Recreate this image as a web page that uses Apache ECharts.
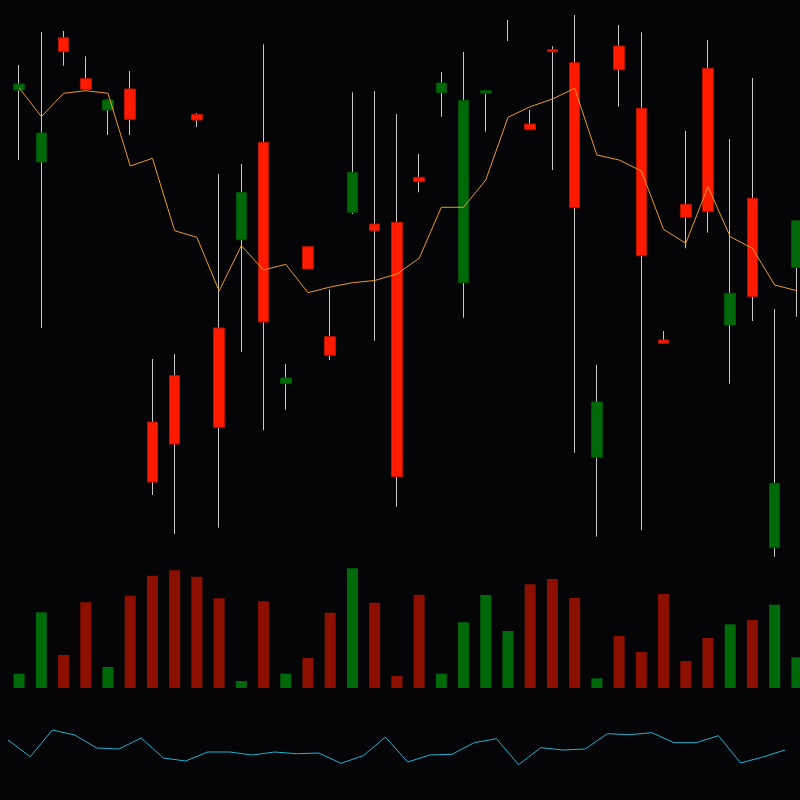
<!DOCTYPE html>
<html>
<head>
<meta charset="utf-8">
<title>K线图</title>
<script src="https://cdn.jsdelivr.net/npm/echarts@6/dist/echarts.min.js"></script>
<style>
  html, body { margin: 0; padding: 0; background: #050507; }
  #chart { width: 800px; height: 800px; }
</style>
</head>
<body>
<div id="chart"></div>
<script>
// 日期（横坐标，不显示）
var days = []
for (var d = 1; d <= 36; d++) days.push('D' + d)

// K线数据 开盘 收盘 最低 最高
var opens = [51.6, 46.7, 54.83, 51.07, 50.0, 48.07, 11.8, 15.6, 48.0, 17.27, 40.77, 27.8, 22.2, 33.1, 24.47, 42.77, 36.93, 12.33,
  41.83, 51.7, 49.97, 50.93, 56.0, 47.03, 54.83, 39.23, 19.8, 53.03, 34.43, 25.67, 38.27, 38.83, 30.67, 30.33, 11.67, 37.93]
var closes = [51.0, 43.8, 56.23, 52.13, 49.0, 51.1, 17.8, 22.43, 48.57, 27.2, 36.03, 45.77, 21.63, 35.33, 26.33, 38.77, 37.6, 37.77,
  42.27, 50.73, 31.73, 50.67, 56.0, 47.6, 55.03, 53.73, 14.27, 55.4, 49.17, 26.0, 39.57, 53.17, 27.5, 40.17, 5.23, 33.25]
var lows = [44.0, 27.2, 53.43, 51.0, 46.5, 46.5, 10.5, 6.6, 47.3, 7.23, 24.8, 16.97, 19.03, 33.1, 24.0, 38.6, 25.93, 9.33,
  40.77, 48.33, 28.23, 46.83, 55.9, 47.03, 43.0, 14.73, 6.33, 49.33, 7.0, 25.67, 35.17, 36.73, 21.63, 27.9, 4.33, 28.33]
var highs = [53.5, 56.8, 56.9, 54.37, 50.1, 52.9, 24.1, 24.6, 48.7, 42.6, 43.6, 55.57, 23.6, 35.4, 31.07, 50.77, 50.9, 48.6,
  44.6, 52.8, 54.8, 50.97, 58.0, 49.0, 55.37, 58.5, 23.53, 57.5, 56.77, 26.9, 46.93, 56.0, 46.1, 52.2, 29.1, 38.0]

// 均线
var maLine = [51.23, 48.33, 50.67, 50.93, 50.67, 43.4, 44.17, 36.93, 36.27, 30.9, 35.43, 33.0, 33.57, 30.73, 31.3, 31.73, 31.95, 32.6,
  34.17, 39.27, 39.27, 42.0, 48.27, 49.33, 50.1, 51.17, 44.5, 44.0, 42.9, 37.07, 35.67, 41.33, 36.33, 35.17, 31.5, 30.93]

// 成交量
var volumes = [143, 757, 330, 857, 210, 923, 1123, 1177, 1113, 897, 70, 867, 143, 300, 753, 1197, 853, 120,
  933, 143, 657, 930, 570, 1037, 1090, 900, 97, 520, 360, 940, 270, 500, 637, 680, 833, 307]

// 底部指标线
var indicator = [40, 23.3, 50, 45, 32, 31, 42, 22, 19, 28, 28, 25, 28, 26.3, 27, 16.7, 24.3, 43,
  18, 25, 25.7, 37.3, 41.3, 15.3, 32.3, 30, 31, 46.3, 45.3, 47.3, 37.3, 37.3, 44.3, 17, 23, 30]

var upColor = '#ff1a00'
var upBorder = '#b81200'
var downColor = '#006a08'
var downBorder = '#005206'
var volUp = '#8c0f00'
var volDown = '#006a0a'

var wickData = []
var bodyData = []
var volData = []
for (var i = 0; i < days.length; i++) {
  var up = closes[i] > opens[i]
  wickData.push([opens[i], closes[i], lows[i], highs[i]])
  // 实体单独画，盖住影线
  if (opens[i] === closes[i]) {
    bodyData.push('-')
  } else {
    var lo = Math.min(opens[i], closes[i])
    var hi = Math.max(opens[i], closes[i])
    bodyData.push([opens[i], closes[i], lo, hi])
  }
  volData.push({ value: volumes[i], itemStyle: { color: up ? volUp : volDown } })
}

var chart = echarts.init(document.getElementById('chart'))
var hidden = { show: false }

chart.setOption({
  backgroundColor: '#050507',
  animation: false,
  grid: [
    { left: 8, width: 800, top: 0, height: 600, outerBoundsMode: 'none' },
    { left: 8, width: 800, top: 558, height: 130, outerBoundsMode: 'none' },
    { left: 8, width: 777, top: 700, height: 80, outerBoundsMode: 'none' }
  ],
  xAxis: [
    { type: 'category', data: days, gridIndex: 0, boundaryGap: true, axisLine: hidden, axisTick: hidden, axisLabel: hidden },
    { type: 'category', data: days, gridIndex: 1, boundaryGap: true, axisLine: hidden, axisTick: hidden, axisLabel: hidden },
    { type: 'category', data: days, gridIndex: 2, boundaryGap: false, axisLine: hidden, axisTick: hidden, axisLabel: hidden }
  ],
  yAxis: [
    { type: 'value', gridIndex: 0, min: 0, max: 60, show: false, splitLine: hidden },
    { type: 'value', gridIndex: 1, min: 0, max: 1300, show: false, splitLine: hidden },
    { type: 'value', gridIndex: 2, min: 0, max: 80, show: false, splitLine: hidden }
  ],
  series: [
    {
      // 影线，宽度1，只剩一条竖线
      name: 'wick',
      type: 'candlestick',
      data: wickData,
      barWidth: 1,
      itemStyle: {
        color: 'transparent',
        color0: 'transparent',
        borderColor: '#c8c8c8',
        borderColor0: '#c8c8c8',
        borderWidth: 1
      }
    },
    {
      name: 'body',
      type: 'candlestick',
      data: bodyData,
      barWidth: 11,
      itemStyle: {
        color: upColor,
        color0: downColor,
        borderColor: upBorder,
        borderColor0: downBorder,
        borderWidth: 1
      }
    },
    {
      name: 'MA',
      type: 'line',
      data: maLine,
      symbol: 'none',
      lineStyle: { color: '#e89a24', width: 1 }
    },
    {
      name: '成交量',
      type: 'bar',
      xAxisIndex: 1,
      yAxisIndex: 1,
      data: volData,
      barWidth: 11
    },
    {
      name: '指标',
      type: 'line',
      xAxisIndex: 2,
      yAxisIndex: 2,
      data: indicator,
      symbol: 'none',
      lineStyle: { color: '#22b2d2', width: 1 }
    }
  ]
})
</script>
</body>
</html>
